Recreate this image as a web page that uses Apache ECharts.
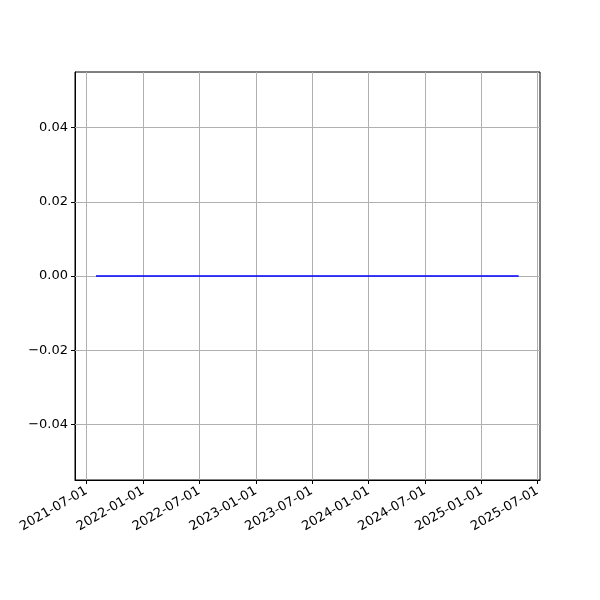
<!DOCTYPE html>
<html>
<head>
<meta charset="utf-8">
<script src="https://cdn.jsdelivr.net/npm/echarts@6/dist/echarts.min.js"></script>
<style>html,body{margin:0;padding:0;background:#fff}#c{width:600px;height:600px}</style>
</head>
<body>
<div id="c"></div>
<script>
const dates = ['2021-08-01','2021-09-01','2021-10-01','2021-11-01','2021-12-01',
  '2022-01-01','2022-02-01','2022-03-01','2022-04-01','2022-05-01','2022-06-01','2022-07-01','2022-08-01','2022-09-01','2022-10-01','2022-11-01','2022-12-01',
  '2023-01-01','2023-02-01','2023-03-01','2023-04-01','2023-05-01','2023-06-01','2023-07-01','2023-08-01','2023-09-01','2023-10-01','2023-11-01','2023-12-01',
  '2024-01-01','2024-02-01','2024-03-01','2024-04-01','2024-05-01','2024-06-01','2024-07-01','2024-08-01','2024-09-01','2024-10-01','2024-11-01','2024-12-01',
  '2025-01-01','2025-02-01','2025-03-01','2025-04-01','2025-05-01'];
const values = [0,0,0,0,0, 0,0,0,0,0,0,0,0,0,0,0,0, 0,0,0,0,0,0,0,0,0,0,0,0, 0,0,0,0,0,0,0,0,0,0,0,0, 0,0,0,0,0];
const xTicks = ['2021-07-01','2022-01-01','2022-07-01','2023-01-01','2023-07-01','2024-01-01','2024-07-01','2025-01-01','2025-07-01'];
const yTicks = [-0.04,-0.02,0.00,0.02,0.04];
const xMin = '2021-05-25', xMax = '2025-07-09';
const yMin = -0.055, yMax = 0.055;

const ts = s => { const p = s.split('-').map(Number); return Date.UTC(p[0], p[1]-1, p[2]); };
const xTickTs = xTicks.map(ts);
const fmtDate = v => { const d = new Date(v); const p = n => String(n).padStart(2,'0'); return d.getUTCFullYear()+'-'+p(d.getUTCMonth()+1)+'-'+p(d.getUTCDate()); };

const gridLines = [];
xTickTs.forEach(t => gridLines.push({xAxis: t}));
yTicks.forEach(v => gridLines.push({yAxis: v}));

const chart = echarts.init(document.getElementById('c'), null, {renderer: 'canvas'});
chart.setOption({
  animation: false,
  grid: {left: 75, right: 60, top: 72, bottom: 120, show: true, borderColor: '#000', borderWidth: 1, backgroundColor: 'transparent'},
  xAxis: {
    type: 'value', min: ts(xMin), max: ts(xMax), scale: true,
    axisLine: {show: true, onZero: false, lineStyle: {color: '#000', width: 1}},
    axisTick: {show: true, customValues: xTickTs, length: 4, lineStyle: {color: '#000'}},
    axisLabel: {customValues: xTickTs, rotate: 30, formatter: v => fmtDate(v), color: '#000', fontSize: 13, fontFamily: 'DejaVu Sans', margin: 10, hideOverlap: false, showMinLabel: true, showMaxLabel: true},
    splitLine: {show: false}
  },
  yAxis: {
    type: 'value', min: yMin, max: yMax,
    axisLine: {show: true, onZero: false, lineStyle: {color: '#000', width: 1}},
    axisTick: {show: true, customValues: yTicks, length: 4, lineStyle: {color: '#000'}},
    axisLabel: {customValues: yTicks, formatter: v => (v < 0 ? '\u2212' + Math.abs(v).toFixed(2) : v.toFixed(2)), color: '#000', fontSize: 13, fontFamily: 'DejaVu Sans', margin: 7},
    splitLine: {show: false}
  },
  series: [
    {type: 'line', data: [], silent: true, z: 1, zlevel: 0,
     markLine: {silent: true, symbol: 'none', label: {show: false}, animation: false,
       lineStyle: {color: '#b0b0b0', width: 1, type: 'solid'}, data: gridLines}},
    {type: 'line', z: 10, zlevel: 1, data: dates.map((d, i) => [ts(d), values[i]]), showSymbol: false, symbol: 'none',
     color: '#0000ff', lineStyle: {color: '#0000ff', width: 1.5}}
  ]
});
</script>
</body>
</html>
